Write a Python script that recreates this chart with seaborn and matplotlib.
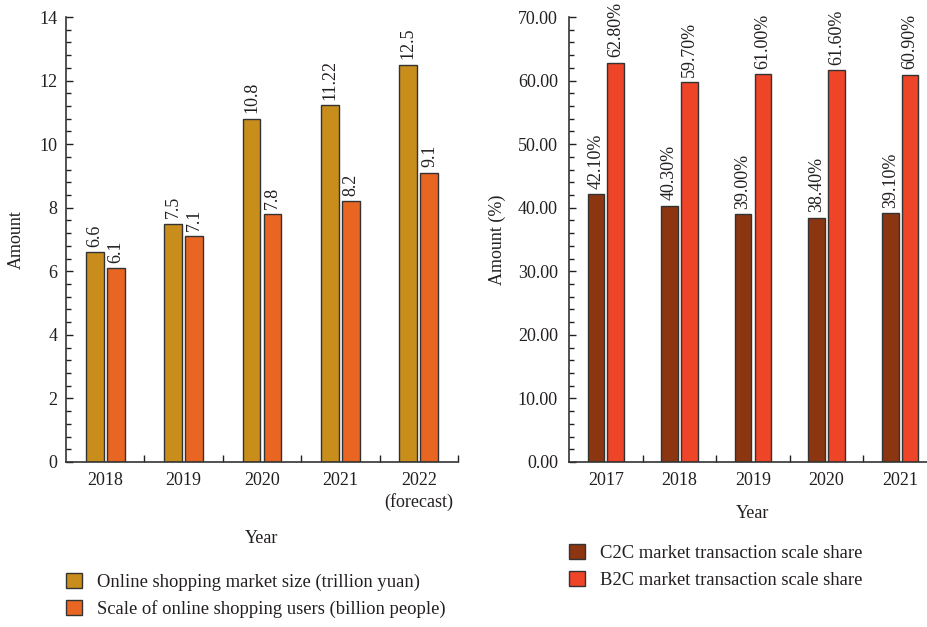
import pandas as pd
import seaborn as sns
import matplotlib.pyplot as plt
from matplotlib.patches import Patch
from matplotlib.ticker import MultipleLocator, FixedLocator

# data
years_left = ["2018", "2019", "2020", "2021", "2022\n(forecast)"]
market_size = [6.6, 7.5, 10.8, 11.22, 12.5]
shop_users = [6.1, 7.1, 7.8, 8.2, 9.1]
left_series = ["Online shopping market size (trillion yuan)",
               "Scale of online shopping users (billion people)"]

years_right = ["2017", "2018", "2019", "2020", "2021"]
c2c_share = [42.1, 40.3, 39.0, 38.4, 39.1]
b2c_share = [62.8, 59.7, 61.0, 61.6, 60.9]
right_series = ["C2C market transaction scale share",
                "B2C market transaction scale share"]

left_colors = ["#C98D1B", "#E86522"]
right_colors = ["#8C3511", "#EE4427"]

sns.set_style("ticks")
plt.rcParams["font.family"] = ["Liberation Serif", "DejaVu Serif"]
plt.rcParams["font.size"] = 13
txt = "#231f20"
plt.rcParams["text.color"] = txt
plt.rcParams["axes.labelcolor"] = txt
plt.rcParams["xtick.color"] = txt
plt.rcParams["ytick.color"] = txt

df_left = pd.DataFrame({
    "year": years_left * 2,
    "value": market_size + shop_users,
    "series": [left_series[0]] * 5 + [left_series[1]] * 5,
})
df_right = pd.DataFrame({
    "year": years_right * 2,
    "value": c2c_share + b2c_share,
    "series": [right_series[0]] * 5 + [right_series[1]] * 5,
})

fig = plt.figure(figsize=(9.27, 6.27), dpi=100)
ax1 = fig.add_axes([66 / 927, 1 - 462 / 627, 392 / 927, 445 / 627])
ax2 = fig.add_axes([569 / 927, 1 - 462 / 627, 368 / 927, 445 / 627])

edge = "#333333"


def draw(ax, df, order, colors, series, ymax, major, minor, fmt, ylabel,
         ylab_x, xlab_y, ytick_pad):
    sns.barplot(data=df, x="year", y="value", hue="series", order=order,
                hue_order=series, palette=colors, saturation=1, width=0.54,
                gap=0.16, edgecolor=edge, linewidth=1, ax=ax, legend=False)
    for cont in ax.containers:
        vals = [b.get_height() for b in cont]
        ax.bar_label(cont, labels=[fmt(v) for v in vals], rotation=90,
                     padding=4, fontsize=13, color=txt)
    ax.set_xlim(-0.5, len(order) - 0.5)
    ax.set_ylim(0, ymax)
    ax.yaxis.set_major_locator(MultipleLocator(major))
    ax.yaxis.set_minor_locator(MultipleLocator(minor))
    ax.xaxis.set_minor_locator(FixedLocator([i + 0.5 for i in range(len(order))]))
    ax.tick_params(axis="x", which="major", length=0, pad=7, labelsize=13)
    ax.tick_params(axis="x", which="minor", direction="in", length=5, width=1)
    ax.tick_params(axis="y", which="major", direction="in", length=5, width=1,
                   pad=ytick_pad, labelsize=13)
    ax.tick_params(axis="y", which="minor", direction="in", length=3.5, width=1)
    for lab in ax.get_xticklabels():
        lab.set_linespacing(1.3)
    sns.despine(ax=ax)
    for s in ["left", "bottom"]:
        ax.spines[s].set_linewidth(1.2)
        ax.spines[s].set_color(edge)
    ax.set_xlabel("Year", fontsize=13)
    ax.set_ylabel(ylabel, fontsize=13)
    ax.xaxis.set_label_coords(0.5, xlab_y)
    ax.yaxis.set_label_coords(ylab_x, 0.5)


draw(ax1, df_left, years_left, left_colors, left_series, 14, 2, 0.4,
     lambda v: f"{v:g}", "Amount", -0.105, -0.153, 6)
draw(ax2, df_right, years_right, right_colors, right_series, 70, 10, 2,
     lambda v: f"{v:.2f}%", "Amount (%)", -0.171, -0.097, 8)
ax2.yaxis.set_major_formatter(lambda v, p: f"{v:.2f}")

for ax, colors, series, anchor in [
        (ax1, left_colors, left_series, (66 / 927, 1 - 573 / 627)),
        (ax2, right_colors, right_series, (569 / 927, 1 - 544 / 627))]:
    handles = [Patch(facecolor=c, edgecolor=edge, linewidth=1) for c in colors]
    ax.legend(handles, series, loc="upper left", bbox_to_anchor=anchor,
              bbox_transform=fig.transFigure, frameon=False, fontsize=13.4,
              handlelength=0.85, handleheight=0.85, handletextpad=0.8,
              borderpad=0, borderaxespad=0, labelspacing=0.5)

fig.savefig("out.png", dpi=100)
